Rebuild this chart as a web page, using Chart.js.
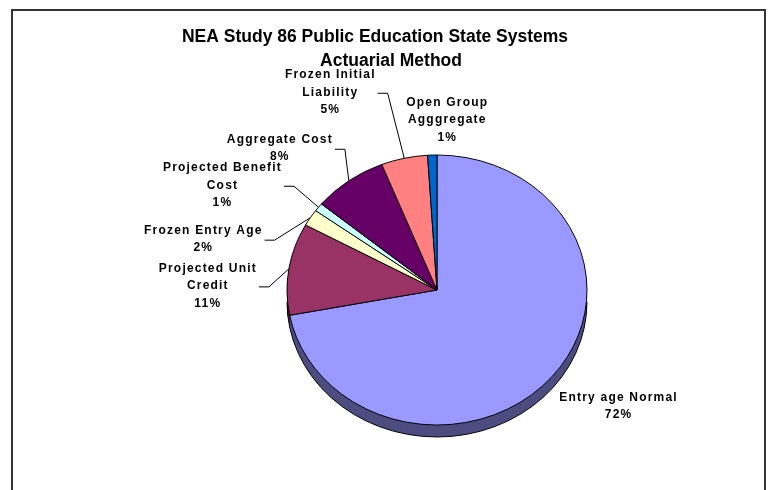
<!DOCTYPE html>
<html>
<head>
<meta charset="utf-8">
<script src="https://cdn.jsdelivr.net/npm/chart.js@4.4.1/dist/chart.umd.min.js"></script>
<style>
  html, body { margin: 0; padding: 0; background: #fff; }
  canvas { display: block; }
</style>
</head>
<body>
<canvas id="pie-chart" width="768" height="490"></canvas>
<script>
const titleLines = ["NEA Study 86 Public Education State Systems", "Actuarial Method"];
const methods = [
  ["Entry age Normal"],
  ["Projected Unit", "Credit"],
  ["Frozen Entry Age"],
  ["Projected Benefit", "Cost"],
  ["Aggregate Cost"],
  ["Frozen Initial", "Liability"],
  ["Open Group", "Agggregate"]
];
const shares = [72, 11, 2, 1, 8, 5, 1];
const sliceColors = ["#9999ff", "#993366", "#ffffcc", "#ccffff", "#660066", "#ff8080", "#0066cc"];

// label centre relative to the slice's outer edge point
const labelPlacement = [
  { dx: 66, dy: 30, leader: false },
  { dx: -81, dy: 17, leader: true },
  { dx: -107, dy: 21.5, leader: true },
  { dx: -96, dy: -22, leader: true },
  { dx: -69, dy: -32.5, leader: true },
  { dx: -74, dy: -66, leader: true },
  { dx: 15, dy: -35, leader: false }
];

const tilt = 0.9;   // squash for the 3d look
const depth = 12;   // thickness of the pie edge
const labelFont = "bold 12px 'Liberation Sans', Arial, sans-serif";
const lineHeight = 17.5;

function darken(hex, f) {
  const n = parseInt(hex.slice(1), 16);
  const r = Math.round(((n >> 16) & 255) * f);
  const g = Math.round(((n >> 8) & 255) * f);
  const b = Math.round((n & 255) * f);
  return "rgb(" + r + "," + g + "," + b + ")";
}

function sector(ctx, a) {
  ctx.beginPath();
  ctx.moveTo(a.x, a.y);
  ctx.arc(a.x, a.y, a.outerRadius, a.startAngle, a.endAngle);
  ctx.closePath();
}

const framePlugin = {
  id: "frame",
  beforeDraw(chart) {
    const ctx = chart.ctx;
    ctx.save();
    ctx.fillStyle = "#fff";
    ctx.fillRect(0, 0, chart.width, chart.height);
    ctx.strokeStyle = "#333";
    ctx.lineWidth = 2;
    ctx.strokeRect(12, 10, 753, 500);
    ctx.restore();
  }
};

const pie3d = {
  id: "pie3d",
  beforeDatasetsDraw(chart) {
    const ctx = chart.ctx;
    const arcs = chart.getDatasetMeta(0).data;
    const cx = arcs[0].x, cy = arcs[0].y;
    ctx.save();
    ctx.translate(cx, cy);
    ctx.scale(1, tilt);
    ctx.translate(-cx, -cy);
    // side wall, stacked below the top face
    for (let d = depth; d > 0; d--) {
      ctx.save();
      ctx.translate(0, d / tilt);
      arcs.forEach((a, i) => {
        sector(ctx, a);
        ctx.fillStyle = darken(sliceColors[i], 0.5);
        ctx.fill();
      });
      ctx.restore();
    }
    ctx.save();
    ctx.translate(0, depth / tilt);
    ctx.beginPath();
    ctx.arc(cx, cy, arcs[0].outerRadius, 0, Math.PI);
    ctx.strokeStyle = "#000";
    ctx.lineWidth = 1;
    ctx.stroke();
    ctx.restore();
  },
  afterDatasetsDraw(chart) {
    chart.ctx.restore();
  }
};

const labelsPlugin = {
  id: "sliceLabels",
  afterDraw(chart) {
    const ctx = chart.ctx;
    const arcs = chart.getDatasetMeta(0).data;
    const total = shares.reduce((s, v) => s + v, 0);
    ctx.save();
    ctx.fillStyle = "#000";
    ctx.textAlign = "center";
    ctx.textBaseline = "middle";

    // title
    ctx.font = "bold 17.5px 'Liberation Sans', Arial, sans-serif";
    ctx.fillText(titleLines[0], 375, 37);
    ctx.fillText(titleLines[1], 391, 61);

    ctx.font = labelFont;
    ctx.letterSpacing = "1.2px";
    arcs.forEach((a, i) => {
      const mid = (a.startAngle + a.endAngle) / 2;
      const ex = a.x + a.outerRadius * Math.cos(mid);
      const ey = a.y + a.outerRadius * Math.sin(mid) * tilt;
      const p = labelPlacement[i];
      const lines = methods[i].concat([Math.round(shares[i] / total * 100) + "%"]);
      const lx = ex + p.dx, ly = ey + p.dy;
      const top = ly - (lines.length - 1) / 2 * lineHeight;
      let maxW = 0;
      lines.forEach((t, k) => {
        ctx.fillText(t, lx, top + k * lineHeight);
        maxW = Math.max(maxW, ctx.measureText(t).width);
      });
      if (p.leader) {
        const right = lx + maxW / 2;
        const yy = ly + 1;
        ctx.beginPath();
        ctx.moveTo(right + 2, yy);
        ctx.lineTo(right + 12, yy);
        ctx.lineTo(ex, ey);
        ctx.strokeStyle = "#000";
        ctx.lineWidth = 1;
        ctx.stroke();
      }
    });
    ctx.restore();
  }
};

new Chart(document.getElementById("pie-chart"), {
  type: "pie",
  data: {
    labels: methods,
    datasets: [
      {
        data: shares,
        backgroundColor: sliceColors,
        borderColor: "#000",
        borderWidth: 1
      }
    ]
  },
  options: {
    responsive: false,
    animation: false,
    radius: 150,
    layout: {
      padding: { left: 287, right: 181, top: 140, bottom: 50 }
    },
    plugins: {
      legend: { display: false },
      tooltip: { enabled: false },
      title: { display: false }
    },
    events: []
  },
  plugins: [framePlugin, pie3d, labelsPlugin]
});
</script>
</body>
</html>
